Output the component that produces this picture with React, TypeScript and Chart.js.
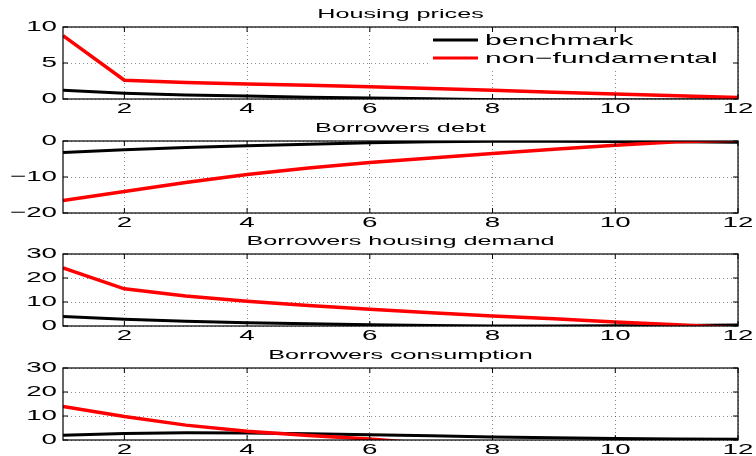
import { useEffect, useRef } from 'react';
import { Chart, registerables } from 'chart.js';

Chart.register(...registerables);

// Horizon (periods after the shock)
const periods = [1, 2, 3, 4, 5, 6, 7, 8, 9, 10, 11, 12];
const xTicks = [2, 4, 6, 8, 10, 12];

// Housing prices
const pricesBenchmark = [1.2, 0.8, 0.55, 0.4, 0.25, 0.15, 0.03, -0.12, -0.15, -0.15, -0.15, -0.12];
const pricesNonFundamental = [8.8, 2.6, 2.3, 2.1, 1.9, 1.7, 1.45, 1.2, 0.95, 0.7, 0.45, 0.2];
const pricesTicks = [0, 5, 10];

// Borrowers debt
const debtBenchmark = [-3.2, -2.4, -1.8, -1.3, -0.9, -0.5, -0.2, -0.1, -0.1, -0.15, -0.2, -0.35];
const debtNonFundamental = [-16.5, -14, -11.5, -9.3, -7.5, -6, -4.7, -3.5, -2.3, -1.2, -0.2, 0.2];
const debtTicks = [-20, -10, 0];

// Borrowers housing demand
const demandBenchmark = [4, 2.8, 2, 1.4, 0.9, 0.5, 0.2, 0.05, 0.05, 0.1, 0.2, 0.4];
const demandNonFundamental = [24.2, 15.5, 12.5, 10.3, 8.5, 7, 5.5, 4.2, 3, 1.7, 0.5, -0.75];
const demandTicks = [0, 10, 20, 30];

// Borrowers consumption
const consumptionBenchmark = [2, 2.7, 3, 2.9, 2.6, 2.2, 1.8, 1.3, 0.9, 0.6, 0.4, 0.3];
const consumptionNonFundamental = [14, 9.8, 6.2, 3.6, 1.9, 0.4, -1.6, -2.5, -3, -3.2, -3.2, -3];
const consumptionTicks = [0, 10, 20, 30];

const seriesNames = ['benchmark', 'non\u2212fundamental'];
const seriesColors = ['#000000', '#ff0000'];

const panelTitles = ['Housing prices', 'Borrowers debt', 'Borrowers housing demand', 'Borrowers consumption'];

const panels = [
  { title: panelTitles[0], bench: pricesBenchmark, alt: pricesNonFundamental, yTicks: pricesTicks, legend: true },
  { title: panelTitles[1], bench: debtBenchmark, alt: debtNonFundamental, yTicks: debtTicks, legend: false },
  { title: panelTitles[2], bench: demandBenchmark, alt: demandNonFundamental, yTicks: demandTicks, legend: false },
  { title: panelTitles[3], bench: consumptionBenchmark, alt: consumptionNonFundamental, yTicks: consumptionTicks, legend: false },
];

const CANVAS_W = 756;
const CANVAS_H = 114;
const PANEL_TOPS = [0, 114, 227, 341];
const FONT = '"Liberation Sans", Arial, Helvetica, sans-serif';
const TICK_STRETCH = 1.85;
const LABEL_STRETCH = 2;

const fmt = (v: number) => (v < 0 ? '\u2212' + Math.abs(v) : String(v));

// Wide, MATLAB-like lettering: every fillText of the chart is widened horizontally.
let stretch = TICK_STRETCH;

const widePlugin = {
  id: 'wideText',
  beforeDraw(chart: any) {
    const ctx = chart.ctx;
    const orig = CanvasRenderingContext2D.prototype.fillText;
    stretch = TICK_STRETCH;
    ctx.fillText = function (text: string, x: number, y: number) {
      this.save();
      this.translate(x, y);
      this.scale(stretch, 1);
      orig.call(this, text, 0, 0);
      this.restore();
    };
  },
  afterDraw(chart: any) {
    const ctx = chart.ctx;
    const opts = chart.options.plugins.decor;
    const { left, right, top, bottom } = chart.chartArea;
    const xs = chart.scales.x;
    const ys = chart.scales.y;
    stretch = LABEL_STRETCH;

    ctx.save();
    // legend (white box without border)
    if (opts.legend) {
      ctx.fillStyle = '#ffffff';
      ctx.fillRect(428, top + 8, right - 428 - 1, 36);
      const rows = [top + 13, top + 31];
      seriesNames.forEach((name, i) => {
        ctx.strokeStyle = seriesColors[i];
        ctx.lineWidth = 3;
        ctx.beginPath();
        ctx.moveTo(433, rows[i]);
        ctx.lineTo(478, rows[i]);
        ctx.stroke();
        ctx.fillStyle = '#000';
        ctx.font = `15px ${FONT}`;
        ctx.textAlign = 'left';
        ctx.textBaseline = 'middle';
        ctx.fillText(name, 485, rows[i] + 1);
      });
    }

    // frame
    ctx.strokeStyle = '#000';
    ctx.lineWidth = 1.2;
    ctx.strokeRect(left, top, right - left, bottom - top);

    // inward tick marks on all four sides
    ctx.lineWidth = 1;
    ctx.beginPath();
    xTicks.forEach((v) => {
      const px = xs.getPixelForValue(v);
      ctx.moveTo(px, bottom);
      ctx.lineTo(px, bottom - 5);
      ctx.moveTo(px, top);
      ctx.lineTo(px, top + 5);
    });
    opts.yTicks.forEach((v: number) => {
      const py = ys.getPixelForValue(v);
      ctx.moveTo(left, py);
      ctx.lineTo(left + 5, py);
      ctx.moveTo(right, py);
      ctx.lineTo(right - 5, py);
    });
    ctx.stroke();

    // panel title
    ctx.fillStyle = '#000';
    ctx.font = `12.6px ${FONT}`;
    ctx.textAlign = 'center';
    ctx.textBaseline = 'middle';
    ctx.fillText(opts.title, (left + right) / 2, top - 12);
    ctx.restore();

    delete ctx.fillText;
    stretch = TICK_STRETCH;
  },
};

function Panel({ index }: { index: number }) {
  const ref = useRef<HTMLCanvasElement | null>(null);
  useEffect(() => {
    const p = panels[index];
    const canvas = ref.current!;
    const chart = new Chart(canvas, {
      type: 'line',
      data: {
        datasets: [
          {
            label: seriesNames[0],
            data: periods.map((x, i) => ({ x, y: p.bench[i] })),
            borderColor: seriesColors[0],
            borderWidth: 3,
            pointRadius: 0,
            tension: 0,
            clip: 0,
            order: 1,
          },
          {
            label: seriesNames[1],
            data: periods.map((x, i) => ({ x, y: p.alt[i] })),
            borderColor: seriesColors[1],
            borderWidth: 3.5,
            pointRadius: 0,
            tension: 0,
            clip: 0,
            order: 0,
          },
        ],
      },
      options: {
        animation: false,
        responsive: false,
        events: [],
        layout: { padding: { left: 0, right: 18, top: 27, bottom: 0 } },
        plugins: {
          legend: { display: false },
          title: { display: false },
          tooltip: { enabled: false },
          decor: { title: p.title, yTicks: p.yTicks, legend: p.legend },
        } as any,
        scales: {
          x: {
            type: 'linear',
            min: periods[0],
            max: periods[periods.length - 1],
            afterBuildTicks: (s: any) => {
              s.ticks = xTicks.map((value) => ({ value }));
            },
            afterFit: (s: any) => {
              s.height = 15;
            },
            ticks: {
              autoSkip: false,
              maxRotation: 0,
              padding: 1,
              color: '#000',
              font: { family: FONT, size: 15 },
              callback: (v: any) => fmt(Number(v)),
            },
            grid: {
              drawTicks: false,
              color: 'rgba(0,0,0,0.45)',
              lineWidth: 1,
            },
            border: { display: false, dash: [1, 3] },
          },
          y: {
            type: 'linear',
            min: p.yTicks[0],
            max: p.yTicks[p.yTicks.length - 1],
            afterBuildTicks: (s: any) => {
              s.ticks = p.yTicks.map((value) => ({ value }));
            },
            afterFit: (s: any) => {
              s.width = 63;
            },
            ticks: {
              padding: 6,
              color: '#000',
              font: { family: FONT, size: 15 },
              callback: (v: any) => fmt(Number(v)),
            },
            grid: {
              drawTicks: false,
              color: 'rgba(0,0,0,0.45)',
              lineWidth: 1,
            },
            border: { display: false, dash: [1, 3] },
          },
        },
      },
      plugins: [widePlugin as any],
    });
    return () => chart.destroy();
  }, [index]);
  return (
    <canvas
      ref={ref}
      width={CANVAS_W}
      height={CANVAS_H}
      style={{ position: 'absolute', left: 0, top: PANEL_TOPS[index], width: CANVAS_W, height: CANVAS_H }}
    />
  );
}

export default function App() {
  return (
    <div style={{ position: 'absolute', left: 0, top: 0, width: 756, height: 456, background: '#fff' }}>
      {panels.map((_, i) => (
        <Panel key={i} index={i} />
      ))}
    </div>
  );
}
